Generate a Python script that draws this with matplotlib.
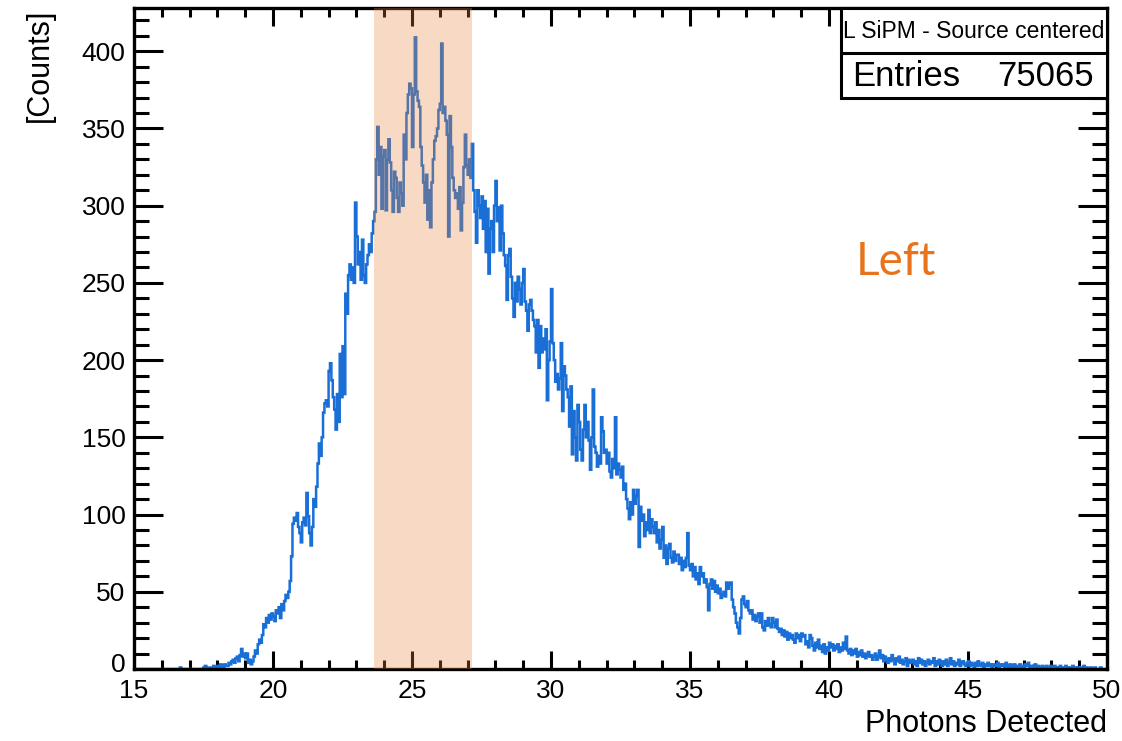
import numpy as np
import matplotlib
matplotlib.use("Agg")
import matplotlib.pyplot as plt
from matplotlib.patches import Rectangle
from matplotlib.ticker import MultipleLocator
from matplotlib.transforms import ScaledTranslation

# ---------------- data (counts per 0.05 bin, one row per unit from 15 to 50) ----------------
x_min, x_max = 15.0, 50.0
y_max = 428
counts_rows = [
    [0]*20,                                                                                     # 15
    [0,0,0,0,0,0,0,0,0,0,0,0,0,1,0,0,0,0,0,0],                                                 # 16
    [0,0,0,0,0,0,0,0,0,0,1,2,1,0,0,1,0,2,1,1],                                                 # 17
    [2,1,3,2,1,3,2,2,4,3,5,6,4,7,8,5,9,13,8,10],                                               # 18
    [7,10,4,6,3,5,8,12,10,16,19,17,22,29,27,33,30,35,32,36],                                   # 19
    [34,31,38,36,40,33,42,38,44,48,46,50,57,73,94,98,96,101,92,88],                            # 20
    [82,95,98,93,114,99,88,80,92,110,105,118,133,146,138,150,166,172,174,170],                 # 21
    [193,198,187,176,168,155,178,160,204,176,209,178,243,230,255,262,252,260,250,302],         # 22
    [280,262,270,252,278,255,250,262,268,275,270,282,290,296,330,351,320,338,298,332],         # 23
    [336,297,330,343,328,310,296,322,318,305,296,315,308,300,346,330,360,372,379,376],         # 24
    [338,372,409,374,368,364,338,326,315,302,320,291,310,286,315,330,342,345,350,362],         # 25
    [366,405,360,364,355,346,280,358,338,318,310,305,308,298,312,284,302,325,346,326],         # 26
    [320,330,318,340,310,296,276,310,300,292,306,285,303,270,298,256,285,290,270,300],         # 27
    [316,290,299,271,300,282,268,261,239,268,272,254,240,228,250,238,254,246,236,250],         # 28
    [259,238,232,219,236,239,232,226,222,205,226,195,222,205,214,207,220,174,200,212],         # 29
    [246,211,200,186,191,181,188,211,167,196,190,181,176,157,183,139,167,150,135,171],         # 30
    [160,142,135,155,171,150,160,148,129,150,181,144,140,131,138,133,163,154,140,142],         # 31
    [133,140,128,124,136,130,163,126,133,129,124,131,116,120,110,104,97,108,100,116],          # 32
    [107,112,116,79,105,96,100,86,95,90,103,88,97,92,88,95,82,90,78,84],                       # 33
    [92,72,80,68,78,81,72,69,76,70,74,74,68,72,64,70,66,72,88,67],                             # 34
    [64,68,60,66,58,62,55,66,60,62,56,58,53,38,55,58,52,57,50,54],                             # 35
    [49,52,46,48,50,47,56,52,55,56,45,40,36,30,27,23,33,45,47,42],                             # 36
    [40,44,38,36,38,32,35,31,34,36,30,36,27,25,31,28,33,29,27,33],                             # 37
    [30,27,32,26,24,26,22,25,21,24,19,23,20,22,19,17,23,20,22,18],                             # 38
    [23,21,22,16,18,14,22,20,15,12,17,14,19,13,15,11,16,10,14,12],                             # 39
    [17,14,16,12,15,13,16,11,14,12,17,13,21,12,10,13,9,12,10,13],                              # 40
    [8,11,9,12,8,10,7,9,11,8,9,6,8,10,6,8,12,7,9,5],                                           # 41
    [8,6,4,7,5,9,6,3,7,5,8,4,6,3,5,7,2,6,4,5],                                                 # 42
    [6,3,5,2,7,4,6,3,5,2,4,6,3,5,4,7,2,5,3,6],                                                 # 43
    [4,2,5,3,6,2,4,7,3,5,2,4,3,6,2,4,5,3,2,4],                                                 # 44
    [5,2,4,3,1,4,2,5,3,2,4,1,3,2,4,2,3,1,3,2],                                                 # 45
    [2,4,1,3,2,3,1,4,2,1,3,2,1,3,0,2,1,3,1,2],                                                 # 46
    [1,3,2,4,1,2,0,2,3,1,2,0,1,2,1,0,2,1,0,2],                                                 # 47
    [1,0,2,1,0,1,2,0,1,0,2,1,0,1,0,2,0,1,0,1],                                                 # 48
    [0,1,0,2,0,1,0,0,1,0,0,1,0,0,0,1,0,0,0,0],                                                 # 49
]
band_lo, band_hi = 23.65, 27.15
title_text = "L SiPM - Source centered"
entries_label = "Entries"
entries_value = "75065"
side_text = "Left"
x_label = "Photons Detected"
y_label = "[Counts]"

counts = np.concatenate([np.array(r, dtype=float) for r in counts_rows])
edges = np.linspace(x_min, x_max, len(counts) + 1)

# ---------------- figure ----------------
W, H = 1122, 741
fig = plt.figure(figsize=(W / 100, H / 100), dpi=100)
plt.rcParams['font.family'] = ['Liberation Sans', 'DejaVu Sans']

def fx(px):
    return px / W

def fy(py):
    return 1 - py / H

ax_l, ax_r, ax_t, ax_b = 134, 1107, 8, 669
ax = fig.add_axes([fx(ax_l), fy(ax_b), fx(ax_r) - fx(ax_l), fy(ax_t) - fy(ax_b)])

blue = "#1a6fd6"
ax.stairs(counts, edges, color=blue, linewidth=1.8, zorder=2)
ax.axvspan(band_lo, band_hi, color=(0.90, 0.51, 0.24), alpha=0.30, lw=0, zorder=10)

ax.set_xlim(x_min, x_max)
ax.set_ylim(0, y_max)

ax.xaxis.set_major_locator(MultipleLocator(5))
ax.xaxis.set_minor_locator(MultipleLocator(1))
ax.yaxis.set_major_locator(MultipleLocator(50))
ax.yaxis.set_minor_locator(MultipleLocator(10))

ax.tick_params(axis='x', which='major', direction='in', length=13, width=2.2,
               top=True, labelsize=19, pad=7)
ax.tick_params(axis='x', which='minor', direction='in', length=6.5, width=2.2, top=True)
ax.tick_params(axis='y', which='major', direction='in', length=21, width=2.2,
               right=True, labelsize=19, pad=6)
ax.tick_params(axis='y', which='minor', direction='in', length=10.5, width=2.2, right=True)
for s in ax.spines.values():
    s.set_linewidth(2.4)

# ROOT-style: the "0" label sits slightly raised above the x-axis labels
fig.canvas.draw()
for lab in ax.get_yticklabels():
    if lab.get_text() in ("0", "\u22120"):
        lab.set_transform(lab.get_transform() + ScaledTranslation(0, 5 / 72, fig.dpi_scale_trans))

fig.text(fx(1107), fy(724), x_label, ha='right', va='center', fontsize=22)
fig.text(fx(40), fy(9), y_label, ha='center', va='top', rotation=90, fontsize=22)

# stat / title box
box_l, box_r, box_t, box_m, box_b = 841, 1107, 8, 53, 98
fig.patches.append(Rectangle((fx(box_l), fy(box_b)), fx(box_r) - fx(box_l), fy(box_t) - fy(box_b),
                             transform=fig.transFigure, facecolor='white', edgecolor='black',
                             linewidth=2.2, zorder=20))
fig.lines.append(plt.Line2D([fx(box_l), fx(box_r)], [fy(box_m), fy(box_m)],
                            transform=fig.transFigure, color='black', linewidth=2.2, zorder=21))
fig.text(fx((box_l + box_r) / 2), fy(32), title_text, ha='center', va='center',
         fontsize=16.5, zorder=22)
fig.text(fx(852), fy(76), entries_label, ha='left', va='center', fontsize=25, zorder=22)
fig.text(fx(1094), fy(76), entries_value, ha='right', va='center', fontsize=25, zorder=22)

fig.text(fx(896), fy(262), side_text, ha='center', va='center', fontsize=33,
         color='#e8731e', family=['Lato', 'DejaVu Sans'], fontweight='normal')

fig.savefig("out.png", dpi=100, facecolor='white')
